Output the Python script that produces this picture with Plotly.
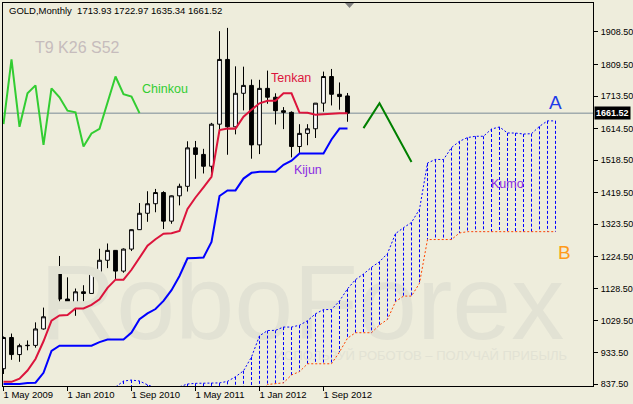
import plotly.graph_objects as go

# ---------------- data ----------------
months = ["May 2009", "Jun 2009", "Jul 2009", "Aug 2009", "Sep 2009", "Oct 2009", "Nov 2009", "Dec 2009",
          "Jan 2010", "Feb 2010", "Mar 2010", "Apr 2010", "May 2010", "Jun 2010", "Jul 2010", "Aug 2010",
          "Sep 2010", "Oct 2010", "Nov 2010", "Dec 2010", "Jan 2011", "Feb 2011", "Mar 2011", "Apr 2011",
          "May 2011", "Jun 2011", "Jul 2011", "Aug 2011", "Sep 2011", "Oct 2011", "Nov 2011", "Dec 2011",
          "Jan 2012", "Feb 2012", "Mar 2012", "Apr 2012", "May 2012", "Jun 2012", "Jul 2012", "Aug 2012",
          "Sep 2012", "Oct 2012", "Nov 2012", "Dec 2012"]

open_ = [884, 979, 927, 954, 955, 1005, 1042, 1180, 1096, 1081, 1118, 1113, 1179, 1214, 1244, 1181,
         1248, 1307, 1357, 1386, 1420, 1333, 1410, 1439, 1556, 1536, 1500, 1628, 1825, 1620, 1722, 1746,
         1565, 1737, 1710, 1669, 1664, 1560, 1600, 1614, 1692, 1773, 1719, 1713.93]
high = [982, 991, 960, 970, 1025, 1070, 1195, 1227, 1162, 1128, 1138, 1181, 1249, 1265, 1245, 1250,
        1308, 1388, 1424, 1431, 1424, 1411, 1447, 1576, 1577, 1553, 1632, 1911, 1921, 1804, 1803, 1764,
        1763, 1791, 1722, 1680, 1667, 1628, 1628, 1692, 1788, 1796, 1755, 1722.97]
low = [868, 911, 905, 940, 948, 1003, 1035, 1075, 1073, 1045, 1088, 1113, 1158, 1190, 1157, 1176,
       1242, 1306, 1331, 1360, 1309, 1325, 1381, 1423, 1462, 1478, 1480, 1600, 1535, 1597, 1670, 1523,
       1537, 1690, 1627, 1613, 1527, 1540, 1564, 1586, 1666, 1685, 1672, 1635.34]
close = [979, 927, 954, 955, 1005, 1042, 1180, 1096, 1081, 1118, 1113, 1179, 1214, 1244, 1181, 1248,
         1307, 1357, 1386, 1420, 1333, 1410, 1439, 1556, 1536, 1500, 1628, 1825, 1620, 1722, 1746, 1565,
         1737, 1710, 1669, 1664, 1560, 1600, 1614, 1692, 1773, 1719, 1712, 1661.52]

tenkan = [844, 844, 853.5, 878.5, 913.5, 967.5, 1030, 1046, 1047.5, 1067.5, 1067.5, 1078.5, 1095, 1130,
          1155, 1155, 1185, 1220, 1258, 1278, 1294.5, 1296, 1303, 1370, 1405, 1436, 1468, 1610, 1615,
          1614.5, 1651, 1672, 1691.5, 1699.5, 1699.5, 1722, 1722, 1663.5, 1663, 1657, 1659, 1661.5,
          1661.5, 1661.5]
kijun = [837.5, 837.5, 837.5, 840.5, 841.5, 871.5, 938, 954, 954, 954, 954, 954, 965, 973, 973, 973,
         994, 1034.5, 1052.5, 1065.5, 1090.5, 1123, 1166, 1220, 1221, 1222.5, 1270, 1409.5, 1426.5,
         1426.5, 1462.5, 1480, 1483, 1483, 1483, 1504.5, 1517, 1539, 1539, 1539, 1539, 1581.5, 1614.5,
         1614.5]
# Senkou spans, index 0 = May 2009, running 26 bars past the last candle
senkou_a = [596, 600, 610, 620, 630, 640, 660, 690, 720, 745, 770, 795, 812, 822, 828, 846.5, 849.5,
            846.5, 835, 826, 822, 820, 829, 837.5, 839.5, 839.5,
            840.75, 840.75, 845.5, 859.5, 877.5, 919.5, 984, 1000, 1000.75, 1010.75, 1010.75, 1016.25,
            1030, 1051, 1064, 1064, 1090, 1127, 1155, 1172, 1192.5, 1209.5, 1234.5, 1295, 1313, 1329,
            1369, 1509.75, 1520.75, 1520.5, 1556.75, 1576, 1587.25, 1591.25, 1591.25, 1613.25, 1619.5,
            1601.25, 1601, 1598, 1599, 1621.5, 1638, 1638]
senkou_b = [505, 510, 520, 525, 530, 540, 555, 575, 590, 600, 610, 620, 640, 660, 675, 690, 700, 705,
            710, 712, 715, 718, 720, 720, 722, 722,
            722, 725, 735, 740, 744, 744, 812, 836, 838, 841, 865, 875, 899, 899, 899, 899, 935, 977,
            993.5, 993.5, 993.5, 1017, 1034, 1088, 1105, 1105, 1144, 1277, 1277, 1277, 1277, 1297,
            1301, 1301, 1301, 1301, 1301, 1301, 1301, 1301, 1301, 1301, 1301, 1301]
chinkou_shift = 26

forecast_idx = [45, 47, 51]
forecast_price = [1616, 1692, 1513]

x_tick_idx = [0, 8, 16, 24, 32, 40]
x_tick_labels = ["1 May 2009", "1 Jan 2010", "1 Sep 2010", "1 May 2011", "1 Jan 2012", "1 Sep 2012"]
y_tick_vals = [837.50, 933.50, 1029.50, 1128.50, 1224.50, 1323.50, 1419.50, 1518.50, 1614.50,
               1713.50, 1809.50, 1908.50]

# ---------------- layout constants ----------------
W, H = 633, 404
ML, MR, MT, MB = 3, 40, 3, 18
PW, PH = W - ML - MR, H - MT - MB
X_RANGE = [-0.0625, 73.6875]
Y_RANGE = [831.4, 1996.7]
BG = "#EEEDDC"
WM = "#E2E2D4"
FONT = "Liberation Sans, Arial, sans-serif"


def px_x(px):
    return X_RANGE[0] + (px - ML) / PW * (X_RANGE[1] - X_RANGE[0])


def px_y(py):
    return Y_RANGE[1] - (py - MT) / PH * (Y_RANGE[1] - Y_RANGE[0])


idx = list(range(len(close)))
span_idx = list(range(len(senkou_a)))

fig = go.Figure()

# watermark (behind everything)
fig.add_trace(go.Scatter(x=[px_x(302)], y=[px_y(312)], mode="text", text=["RoboForex"],
                         textposition="middle center",
                         textfont=dict(size=106, color=WM, family=FONT), hoverinfo="skip",
                         showlegend=False))
fig.add_trace(go.Scatter(x=[px_x(567)], y=[px_y(357)], mode="text",
                         text=["ИСПОЛЬЗУЙ РОБОТОВ – ПОЛУЧАЙ ПРИБЫЛЬ"],
                         textposition="middle left",
                         textfont=dict(size=13, color=WM, family=FONT), hoverinfo="skip",
                         showlegend=False))

# kumo verticals (drawn from Senkou A down to Senkou B)
vx, vy = [], []
for p, (a, b) in enumerate(zip(senkou_a, senkou_b)):
    vx += [p, p, None]
    vy += [a, b, None]
fig.add_trace(go.Scatter(x=vx, y=vy, mode="lines", line=dict(color="#0000FF", width=1, dash="3px,2px"),
                         hoverinfo="skip", showlegend=False))
fig.add_trace(go.Scatter(x=span_idx, y=senkou_a, mode="lines",
                         line=dict(color="#0000FF", width=1, dash="2px,2px"), hoverinfo="skip",
                         showlegend=False))
fig.add_trace(go.Scatter(x=span_idx, y=senkou_b, mode="lines",
                         line=dict(color="#FF4500", width=1, dash="2px,2px"), hoverinfo="skip",
                         showlegend=False))

# candles
fig.add_trace(go.Candlestick(x=idx, open=open_, high=high, low=low, close=close,
                             increasing=dict(line=dict(color="black", width=1), fillcolor="white"),
                             decreasing=dict(line=dict(color="black", width=1), fillcolor="black"),
                             whiskerwidth=0, hoverinfo="skip", showlegend=False))

# chinkou
fig.add_trace(go.Scatter(x=idx[:len(close) - chinkou_shift], y=close[chinkou_shift:], mode="lines",
                         line=dict(color="#32CD32", width=2), hoverinfo="skip", showlegend=False))
# kijun, tenkan
fig.add_trace(go.Scatter(x=idx, y=kijun, mode="lines", line=dict(color="#0000FF", width=2),
                         hoverinfo="skip", showlegend=False))
fig.add_trace(go.Scatter(x=idx, y=tenkan, mode="lines", line=dict(color="#DC143C", width=2),
                         hoverinfo="skip", showlegend=False))
# forecast zigzag
fig.add_trace(go.Scatter(x=forecast_idx, y=forecast_price, mode="lines",
                         line=dict(color="#008000", width=2), hoverinfo="skip", showlegend=False))

last_close = close[-1]

annotations = [
    dict(xref="paper", yref="paper", x=4 / PW, y=1 - 8 / PH, xanchor="left", yanchor="middle",
         text="GOLD,Monthly  " + " ".join(f"{v:.2f}" for v in (open_[-1], high[-1], low[-1], close[-1])),
         showarrow=False, font=dict(size=9.5, color="black", family=FONT)),
    dict(x=px_x(33), y=px_y(47), xanchor="left", yanchor="middle", text="T9 K26 S52", showarrow=False,
         font=dict(size=16, color="#C6BCBC", family=FONT)),
    dict(x=px_x(140), y=px_y(89), xanchor="left", yanchor="middle", text="Chinkou", showarrow=False,
         font=dict(size=12.5, color="#32CD32", family=FONT)),
    dict(x=px_x(269), y=px_y(78), xanchor="left", yanchor="middle", text="Tenkan", showarrow=False,
         font=dict(size=12.5, color="#DC143C", family=FONT)),
    dict(x=px_x(292), y=px_y(170), xanchor="left", yanchor="middle", text="Kijun", showarrow=False,
         font=dict(size=12.5, color="#8A2BE2", family=FONT)),
    dict(x=px_x(489), y=px_y(184), xanchor="left", yanchor="middle", text="Kumo", showarrow=False,
         font=dict(size=12.5, color="#8A2BE2", family=FONT)),
    dict(x=px_x(547), y=px_y(102), xanchor="left", yanchor="middle", text="A", showarrow=False,
         font=dict(size=19, color="#1E3CE8", family=FONT)),
    dict(x=px_x(556), y=px_y(252), xanchor="left", yanchor="middle", text="B", showarrow=False,
         font=dict(size=19, color="#FF9A1A", family=FONT)),
    dict(xref="paper", x=1, xshift=1, y=last_close, xanchor="left", yanchor="middle",
         text=f"<b>{last_close:.2f}</b>", showarrow=False, bgcolor="black", borderpad=1,
         font=dict(size=9, color="white", family=FONT)),
]

shapes = [
    dict(type="line", xref="paper", x0=0, x1=1, y0=last_close, y1=last_close,
         line=dict(color="#7A8A96", width=1), layer="below"),
    dict(type="path", xref="x", yref="paper",
         path=f"M {px_x(345)} 1 L {px_x(354)} 1 L {px_x(349.5)} {1 - 5 / PH} Z",
         fillcolor="#808080", line=dict(width=0)),
]

fig.update_layout(
    width=W, height=H,
    margin=dict(l=ML, r=MR, t=MT, b=MB),
    paper_bgcolor=BG, plot_bgcolor=BG,
    showlegend=False, boxgap=0.32,
    annotations=annotations, shapes=shapes,
    font=dict(family=FONT, size=9, color="black"),
    xaxis=dict(range=X_RANGE, rangeslider=dict(visible=False), showgrid=False, zeroline=False,
               showline=True, mirror=True, linecolor="black", linewidth=1,
               tickmode="array", tickvals=x_tick_idx, ticktext=x_tick_labels,
               ticks="outside", ticklen=4, tickcolor="black", tickwidth=1,
               ticklabelposition="outside right", ticklabelshift=-1, ticklabelstandoff=0,
               automargin=False,
               tickfont=dict(size=9.5, color="black", family=FONT)),
    yaxis=dict(range=Y_RANGE, side="right", showgrid=False, zeroline=False,
               showline=True, mirror=True, linecolor="black", linewidth=1,
               tickmode="array", tickvals=y_tick_vals, ticktext=[f"{v:.2f}" for v in y_tick_vals],
               ticks="outside", ticklen=4, tickcolor="black", tickwidth=1,
               ticklabelstandoff=1, automargin=False,
               tickfont=dict(size=9, color="black", family=FONT)),
)

fig.write_html("out.html", config={"displayModeBar": False},
               post_script="document.body.style.margin='0';document.body.style.padding='0';")
